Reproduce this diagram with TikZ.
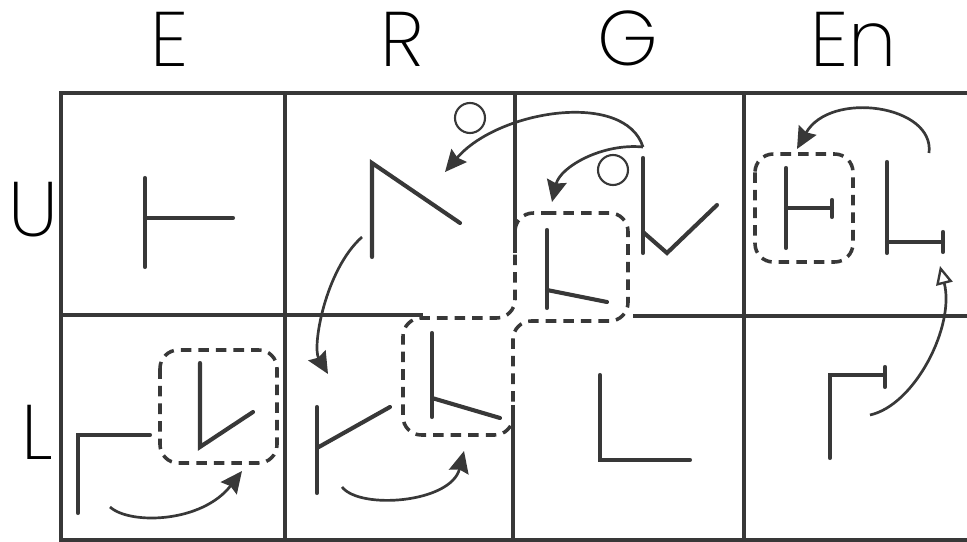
\documentclass[tikz,border=0pt]{standalone}
\usepackage{fontspec}
\newfontfamily\headfont{Poppins ExtraLight}
\usetikzlibrary{arrows.meta}
\definecolor{ink}{HTML}{383838}

\begin{document}
\begin{tikzpicture}[
  x=0.03cm, y=-0.03cm,
  rule/.style = {draw=ink, line width=2.8pt},
  stroke/.style = {draw=ink, line width=3.5pt, line cap=round},
  group/.style = {draw=ink, line width=3pt, dash pattern=on 9pt off 6pt, rounded corners=0.55cm},
  arrow/.style = {draw=ink, line width=2.3pt, -{Stealth[length=6.5mm, width=6mm, inset=0.8mm]}},
  openarrow/.style = {draw=ink, line width=2.3pt, -{Triangle[open, length=5.5mm, width=5mm, line width=2pt]}},
  ring/.style = {draw=ink, line width=1.8pt, circle, minimum size=0.9cm, inner sep=0pt},
  head/.style = {font=\headfont\fontsize{66}{70}\selectfont, anchor=base, inner sep=0pt}
]
  \useasboundingbox (0,0) rectangle (967,542);

  % ======================================================
  % Headings
  % ======================================================
  \node[head] (hE)  at (169,67) {E};
  \node[head] (hR)  at (402,67) {R};
  \node[head] (hG)  at (628,66) {G};
  \node[head] (hEn) at (854,67) {En};
  \node[head] (rowU) at (33,237) {U};
  \node[head] (rowL) at (37,460) {L};

  % ======================================================
  % Grid
  % ======================================================
  \draw[rule] (967,93) -- (61,93) -- (61,540) -- (967,540);
  \draw[rule] (285,93) -- (285,540);
  \draw[rule] (744,93) -- (744,540);
  \draw[rule] (515,93) -- (515,253);
  \draw[rule] (513,405) -- (513,540);
  \draw[rule] (61,315) -- (423,315);
  \draw[rule] (633,316) -- (967,316);

  % ======================================================
  % Upper row
  % ======================================================
  % E
  \draw[stroke] (145,178) -- (145,267);
  \draw[stroke] (145,218) -- (233,218);

  % R
  \draw[stroke] (372,257) -- (372,163) -- (460,223);
  \node[ring] (ringR) at (470,118) {};

  % G
  \draw[stroke] (547,230) -- (547,308);
  \draw[stroke] (547,290) -- (607,302);
  \draw[stroke] (643,158) -- (643,253);
  \draw[stroke] (643,232) -- (667,253) -- (717,205);
  \node[ring] (ringG) at (613,170) {};

  % En
  \draw[stroke] (786,168) -- (786,248);
  \draw[stroke] (786,208) -- (832,208);
  \draw[stroke] (832,200) -- (832,217);
  \draw[stroke] (887,162) -- (887,253);
  \draw[stroke] (887,242) -- (943,242);
  \draw[stroke] (943,232) -- (943,252);
  \draw[group] (755,154) rectangle (853,262);

  % ======================================================
  % Lower row
  % ======================================================
  % E
  \draw[stroke] (78,513) -- (78,435) -- (150,435);
  \draw[stroke] (200,363) -- (200,447) -- (253,412);
  \draw[group] (160,350) rectangle (277,463);

  % R
  \draw[stroke] (317,407) -- (317,493);
  \draw[stroke] (317,448) -- (390,407);
  \draw[stroke] (432,333) -- (432,417);
  \draw[stroke] (432,398) -- (500,418);

  % G
  \draw[stroke] (600,375) -- (600,460) -- (690,460);

  % En
  \draw[stroke] (830,458) -- (830,375) -- (885,375);
  \draw[stroke] (885,367) -- (885,387);

  % group across R and G
  \draw[group] (570,213) -- (515,213) -- (515,318) -- (403,318) -- (403,435)
    -- (513,435) -- (513,321) -- (628,321) -- (628,213) -- cycle;

  % ======================================================
  % Moves
  % ======================================================
  \coordinate (srcG)  at (643,147);
  \coordinate (tipR)  at (445,172);
  \coordinate (tipG)  at (552,202);
  \coordinate (srcEn) at (929,153);
  \coordinate (tipEn) at (797,149);
  \coordinate (srcLEn) at (870,415);
  \coordinate (tipUEn) at (940,266);
  \coordinate (srcLE) at (110,507);
  \coordinate (tipLE) at (242,471);
  \coordinate (srcLR) at (342,487);
  \coordinate (tipLR) at (464,451);
  \coordinate (srcUR) at (362,237);
  \coordinate (tipUR) at (328,374);

  \draw[arrow] (srcG) .. controls +(-18,-57) and +(53,-62) .. (tipR);
  \draw[arrow] (srcG) .. controls +(-41,-4) and +(8,-35) .. (tipG);
  \draw[arrow] (srcEn) .. controls +(6,-48) and +(33,-59) .. (tipEn);
  \draw[openarrow] (srcLEn) .. controls +(45,-10) and +(15,60) .. (tipUEn);
  \draw[arrow] (srcLE) .. controls +(20,18) and +(-40,52) .. (tipLE);
  \draw[arrow] (srcLR) .. controls +(18,23) and +(-13,52) .. (tipLR);
  \draw[arrow] (srcUR) .. controls +(-37,33) and +(-16,-27) .. (tipUR);

\end{tikzpicture}
\end{document}
